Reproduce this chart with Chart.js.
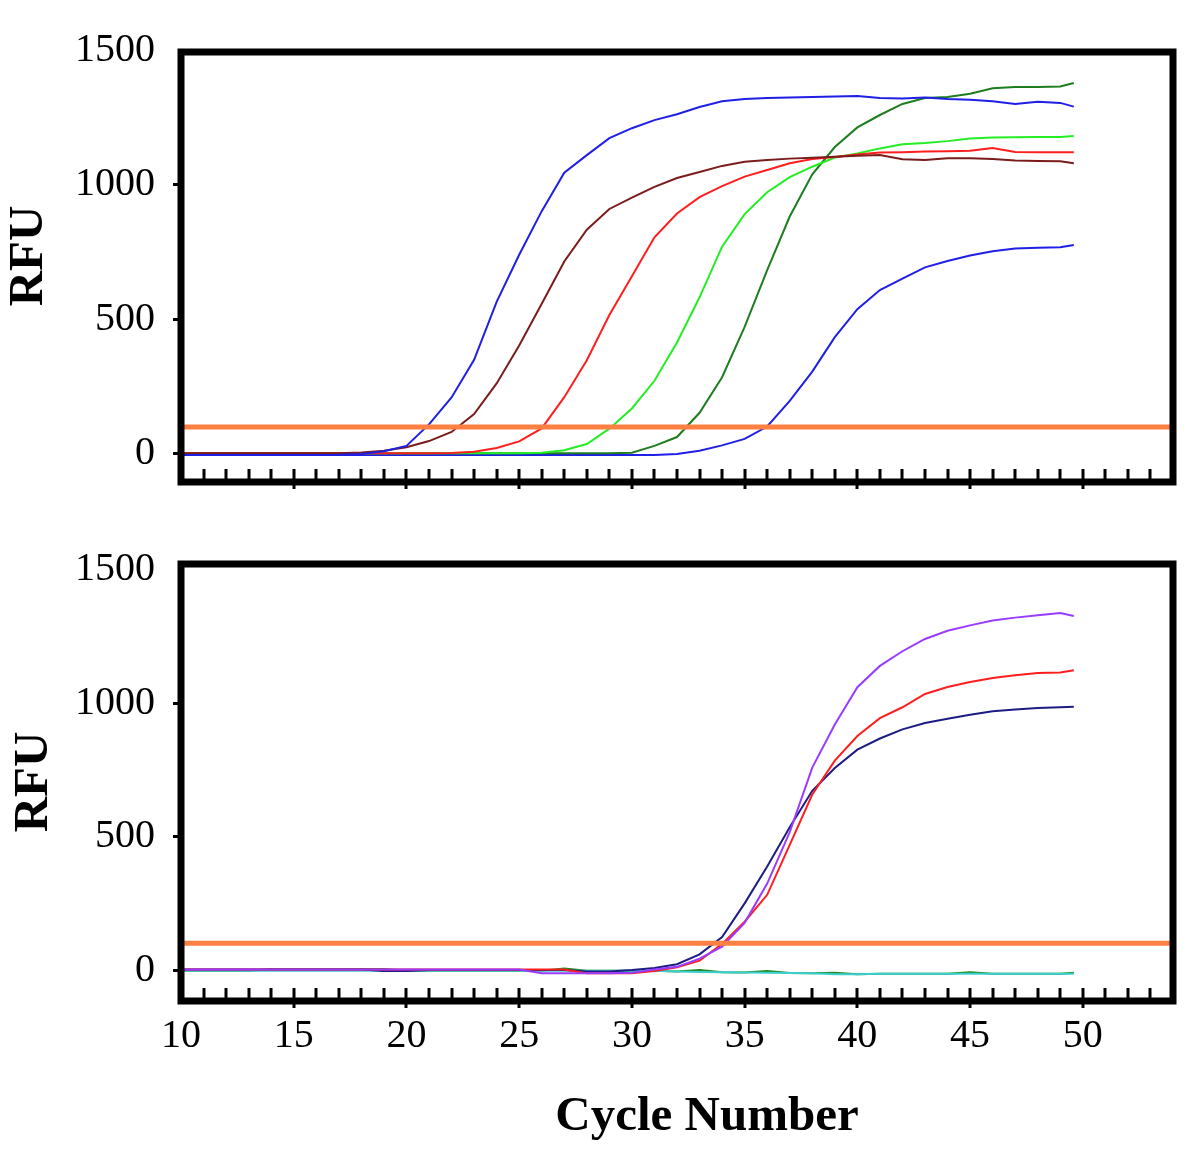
<!DOCTYPE html>
<html><head><meta charset="utf-8">
<script src="https://cdn.jsdelivr.net/npm/chart.js@4.4.0/dist/chart.umd.min.js"></script>
<style>
html,body{margin:0;padding:0;background:#fff;}
#wrap{position:relative;width:1200px;height:1150px;background:#fff;}
canvas{position:absolute;left:0;}
</style></head><body>
<div id="wrap">
<canvas id="botChart" width="1200" height="640" style="top:510px"></canvas>
<canvas id="topChart" width="1200" height="540" style="top:0px"></canvas>
</div>
<script>
// ---------- data ----------
const cycles = [10,11,12,13,14,15,16,17,18,19,20,21,22,23,24,25,26,27,28,29,30,31,32,33,34,35,36,37,38,39,40,41,42,43,44,45,46,47,48,49,49.6];
const xTickValues = [10,15,20,25,30,35,40,45,50];
const yTickValues = [0,500,1000,1500];
const thresholdRFU = 100;

// top panel
const topBlueEarly = [-4,-4,-4,-4,-4,-4,-4,-3,0,10,30,110,210,350,565,740,902,1045,1110,1173,1210,1240,1262,1289,1310,1318,1322,1324,1326,1328,1330,1322,1320,1324,1318,1316,1310,1300,1308,1304,1290];
const topBrown = [3,3,3,3,3,3,3,3,6,12,25,48,82,148,262,403,558,715,833,910,952,992,1025,1047,1070,1085,1092,1097,1100,1104,1108,1110,1095,1092,1098,1098,1096,1090,1088,1087,1080];
const topRed = [3,3,3,3,3,3,3,3,3,3,3,3,4,8,22,47,95,211,348,516,660,805,893,954,995,1030,1055,1080,1096,1103,1112,1120,1121,1123,1124,1126,1136,1122,1121,1121,1121];
const topLightGreen = [3,3,3,3,3,3,3,3,3,3,3,3,3,3,3,3,5,14,37,94,169,272,414,582,770,891,972,1028,1067,1101,1116,1135,1150,1155,1162,1172,1175,1176,1177,1177,1181];
const topDarkGreen = [3,3,3,3,3,3,3,3,3,3,3,3,3,3,3,3,3,3,3,3,5,30,63,153,285,472,683,882,1039,1140,1213,1259,1300,1322,1326,1338,1358,1363,1363,1365,1378];
const topBlueLate = [-4,-4,-4,-4,-4,-4,-4,-4,-4,-4,-4,-4,-4,-4,-4,-4,-4,-4,-4,-4,-4,-4,0,12,32,56,102,197,306,434,538,609,651,693,717,737,753,763,766,768,776];

// bottom panel
const botPurple = [2,2,2,2,2,2,2,2,2,2,2,2,2,2,2,2,-12,-12,-12,-12,-10,2,12,43,88,177,324,517,759,920,1060,1140,1195,1241,1272,1292,1310,1321,1330,1338,1327];
const botRed = [2,2,2,2,2,2,2,2,2,2,2,2,2,2,2,2,2,2,-12,-12,-12,-4,10,35,98,181,282,469,658,785,877,944,985,1035,1061,1080,1095,1105,1113,1115,1124];
const botNavy = [2,2,2,2,2,2,2,2,2,-4,-4,0,0,0,0,0,0,0,-5,-5,0,8,22,59,124,250,388,535,672,757,826,868,902,926,942,957,970,977,982,985,987];
const botCyan = [-3,-3,-3,-3,-3,-3,-3,-3,-3,-3,-3,-3,-3,-3,-3,-3,-3,-3,-3,-3,-3,-3,-5,-7,-8,-9,-10,-11,-12,-16,-16,-14,-14,-14,-14,-14,-14,-14,-14,-14,-14];
const botGreen = [-3,-3,-3,-3,4,4,4,4,4,4,-3,-3,-3,-3,-3,-3,-3,6,-3,-3,-3,-3,-5,0,-8,-9,-4,-11,-12,-10,-16,-14,-14,-14,-14,-8,-14,-14,-14,-14,-10];

// ---------- helpers ----------
const pts = arr => cycles.map((c,i)=>({x:c,y:arr[i]}));
const thr = () => [{x:10,y:thresholdRFU},{x:54,y:thresholdRFU}];
const line = (arr,color) => ({data:pts(arr),borderColor:color,borderWidth:2,pointRadius:0,tension:0,fill:false});
const thrSet = () => ({data:thr(),borderColor:'#fb8042',borderWidth:5,pointRadius:0,tension:0,fill:false});

const framePlugin = {
  id:'frame',
  afterDraw(chart){
    const {ctx, chartArea:a} = chart; const xs = chart.scales.x;
    ctx.save();
    ctx.strokeStyle='#000'; ctx.lineWidth=7;
    ctx.strokeRect(a.left,a.top,a.right-a.left,a.bottom-a.top);
    ctx.lineWidth=3; ctx.beginPath();
    for (let c=11;c<54;c++){
      const px = Math.round(xs.getPixelForValue(c));
      const major = c%5===0;
      ctx.moveTo(px, a.bottom-13); ctx.lineTo(px, a.bottom+(major?7:0));
    }
    ctx.stroke();
    // rotated y title
    const t = chart.options.rfuTitle;
    ctx.font='bold 49px "Liberation Serif"'; ctx.fillStyle='#000';
    ctx.textAlign='center'; ctx.textBaseline='middle';
    ctx.translate(t.x, t.y); ctx.rotate(-Math.PI/2);
    ctx.fillText('RFU', 0, 0);
    ctx.restore();
  }
};
const xTitlePlugin = {
  id:'xtitle',
  afterDraw(chart){
    const ctx = chart.ctx;
    ctx.save();
    ctx.font='bold 49px "Liberation Serif"'; ctx.fillStyle='#000';
    ctx.textAlign='center'; ctx.textBaseline='alphabetic';
    ctx.fillText('Cycle Number', 707, 620);
    ctx.restore();
  }
};

function makeOptions(o){
  return {
    responsive:false, animation:false, devicePixelRatio:1,
    rfuTitle:o.rfuTitle,
    layout:{padding:{left:0,right:27,top:o.areaTop,bottom:0}},
    plugins:{legend:{display:false},tooltip:{enabled:false},title:{display:false}},
    scales:{
      x:{type:'linear',min:10,max:54,
        afterBuildTicks:s=>{s.ticks = xTickValues.map(v=>({value:v}));},
        afterFit:s=>{s.height=o.xAxisHeight;},
        grid:{display:false,drawTicks:false},
        border:{display:false},
        ticks:{display:o.showX,font:{family:'Liberation Serif',size:40},color:'#000',padding:11,maxRotation:0,autoSkip:false,
               callback:v=>String(v)}
      },
      y:{type:'linear',min:o.yMin,max:o.yMax,
        afterBuildTicks:s=>{s.ticks = yTickValues.map(v=>({value:v}));},
        afterFit:s=>{s.width=181;},
        grid:{display:true,drawOnChartArea:false,drawTicks:true,tickLength:8,lineWidth:3,
              color:ctx=>(ctx.tick && ctx.tick.value===1500)?'rgba(0,0,0,0)':'#000'},
        border:{display:false},
        ticks:{font:{family:'Liberation Serif',size:40},color:'#000',padding:18,autoSkip:false,
               callback:v=>String(v)},
        title:{display:false}
      }
    }
  };
}

new Chart(document.getElementById('topChart'),{
  type:'line',
  data:{datasets:[
    thrSet(),
    line(topBlueEarly,'#1f1fe6'),
    line(topBrown,'#7a1c1c'),
    line(topRed,'#ff1e1e'),
    line(topLightGreen,'#22ee22'),
    line(topDarkGreen,'#1e7d1e'),
    line(topBlueLate,'#1f1fe6')
  ]},
  options:makeOptions({areaTop:52,xAxisHeight:58,showX:false,yMin:-104,yMax:1493,rfuTitle:{x:29,y:256}}),
  plugins:[framePlugin]
});

new Chart(document.getElementById('botChart'),{
  type:'line',
  data:{datasets:[
    thrSet(),
    line(botPurple,'#9a3cff'),
    line(botRed,'#ff1e1e'),
    line(botNavy,'#1c1c84'),
    line(botCyan,'#3ccfcf'),
    line(botGreen,'#1e8a1e')
  ]},
  options:makeOptions({areaTop:54,xAxisHeight:149,showX:true,yMin:-116,yMax:1522,rfuTitle:{x:34,y:272}}),
  plugins:[framePlugin,xTitlePlugin]
});
</script>
</body></html>
